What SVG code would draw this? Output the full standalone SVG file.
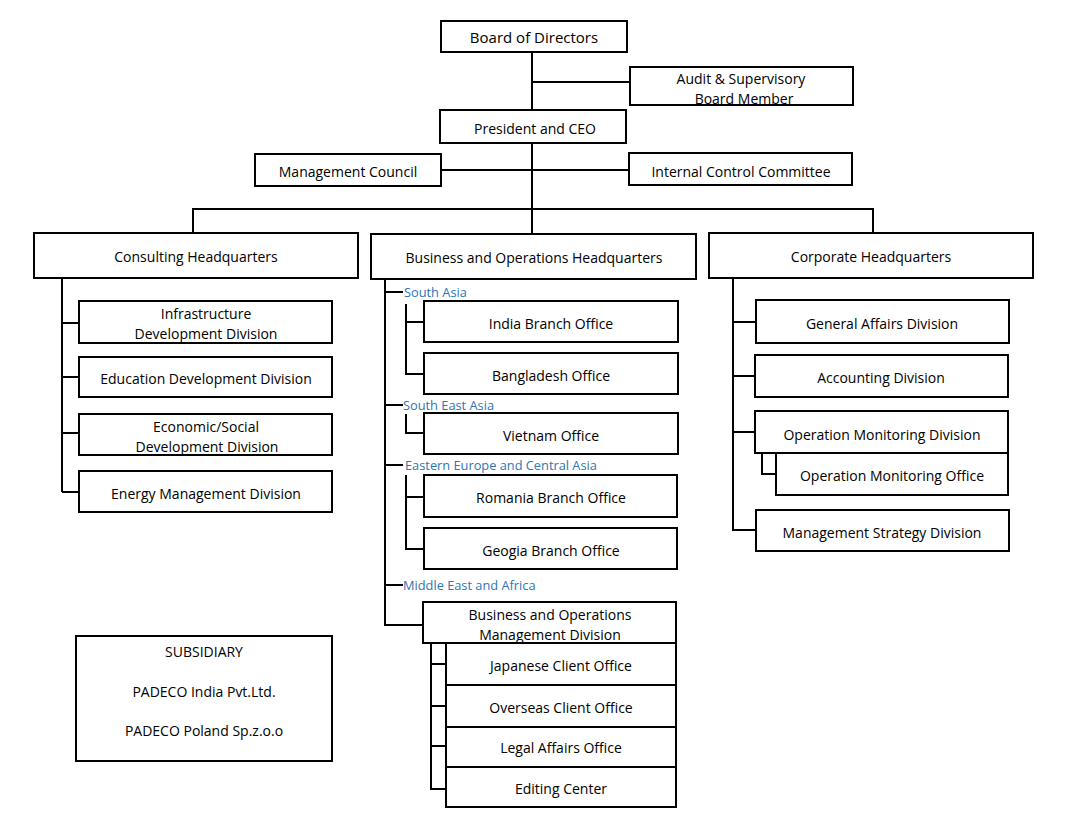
<svg xmlns="http://www.w3.org/2000/svg" width="1077" height="822" viewBox="0 0 1077 822">
<style>
.b{fill:#fff;stroke:#000;stroke-width:2}
.t{font-family:"Open Sans","Noto Sans",sans-serif;font-size:14px;fill:#000;text-anchor:middle;dominant-baseline:central}
.r{font-family:"Open Sans","Noto Sans",sans-serif;font-size:12.8px;fill:#2E75B6;dominant-baseline:central}
.c{fill:none;stroke:#000;stroke-width:2}
</style>
<rect width="1077" height="822" fill="#fff"/>
<g id="connectors" class="c">
<path d="M532 52V110M532 82H630M532 143V233M441 170H629M193 233V209H873V233"/>
<path d="M62 278V492M62 323H79M62 377H79M62 433H79M62 492H79"/>
<path d="M385 279V625H423M385 292H403M385 405H403M385 465H403M385 585H403"/>
<path d="M406 304V374H424M406 322H424M406 414V433H424M406 475V549H424M406 497H424"/>
<path d="M431 643V789H446M431 664H446M431 706H446M431 746H446"/>
<path d="M733 278V530H756M733 322H756M733 376H755M733 432H755M762 453V474H776"/>
</g>
<g id="board"><rect class="b" x="441" y="21" width="186" height="31"/><text class="t" x="534" y="37" style="font-size:15px">Board of Directors</text></g>
<g id="audit"><rect class="b" x="630" y="67" width="223" height="38"/><text class="t" x="741" y="78">Audit &amp; Supervisory</text><text class="t" x="744" y="98">Board Member</text></g>
<g id="ceo"><rect class="b" x="440" y="110" width="186" height="33"/><text class="t" x="535" y="128">President and CEO</text></g>
<g id="mgmt-council"><rect class="b" x="255" y="154" width="186" height="32"/><text class="t" x="348" y="171">Management Council</text></g>
<g id="icc"><rect class="b" x="629" y="153" width="223" height="32"/><text class="t" x="741" y="171">Internal Control Committee</text></g>
<g id="consulting-hq"><rect class="b" x="34" y="233" width="324" height="45"/><text class="t" x="196" y="256">Consulting Headquarters</text></g>
<g id="business-hq"><rect class="b" x="371" y="234" width="325" height="45"/><text class="t" x="534" y="257">Business and Operations Headquarters</text></g>
<g id="corporate-hq"><rect class="b" x="709" y="233" width="324" height="45"/><text class="t" x="871" y="256">Corporate Headquarters</text></g>
<g id="infra"><rect class="b" x="79" y="301" width="253" height="42"/><text class="t" x="206" y="313">Infrastructure</text><text class="t" x="206" y="333">Development Division</text></g>
<g id="education"><rect class="b" x="79" y="357" width="253" height="40"/><text class="t" x="206" y="378">Education Development Division</text></g>
<g id="economic"><rect class="b" x="79" y="414" width="253" height="41"/><text class="t" x="206" y="426">Economic/Social</text><text class="t" x="207" y="446">Development Division</text></g>
<g id="energy"><rect class="b" x="79" y="471" width="253" height="41"/><text class="t" x="206" y="493">Energy Management Division</text></g>
<g id="region-south-asia"><text class="r" x="404" y="292">South Asia</text></g>
<g id="india"><rect class="b" x="424" y="301" width="254" height="41"/><text class="t" x="551" y="323">India Branch Office</text></g>
<g id="bangladesh"><rect class="b" x="424" y="353" width="254" height="41"/><text class="t" x="551" y="375">Bangladesh Office</text></g>
<g id="region-sea"><text class="r" x="403" y="405">South East Asia</text></g>
<g id="vietnam"><rect class="b" x="424" y="413" width="254" height="41"/><text class="t" x="551" y="435">Vietnam Office</text></g>
<g id="region-eeca"><text class="r" x="405" y="465">Eastern Europe and Central Asia</text></g>
<g id="romania"><rect class="b" x="424" y="475" width="253" height="42"/><text class="t" x="551" y="497">Romania Branch Office</text></g>
<g id="georgia"><rect class="b" x="424" y="528" width="253" height="41"/><text class="t" x="551" y="550">Geogia Branch Office</text></g>
<g id="region-mea"><text class="r" x="403" y="585">Middle East and Africa</text></g>
<g id="bom-division"><rect class="b" x="423" y="602" width="253" height="41"/><text class="t" x="550" y="614">Business and Operations</text><text class="t" x="550" y="634">Management Division</text></g>
<g id="japanese"><rect class="b" x="446" y="643" width="230" height="42"/><text class="t" x="561" y="665">Japanese Client Office</text></g>
<g id="overseas"><rect class="b" x="446" y="685" width="230" height="42"/><text class="t" x="561" y="707">Overseas Client Office</text></g>
<g id="legal"><rect class="b" x="446" y="727" width="230" height="40"/><text class="t" x="561" y="747">Legal Affairs Office</text></g>
<g id="editing"><rect class="b" x="446" y="767" width="230" height="40"/><text class="t" x="561" y="788">Editing Center</text></g>
<g id="general-affairs"><rect class="b" x="756" y="300" width="253" height="43"/><text class="t" x="882" y="323">General Affairs Division</text></g>
<g id="accounting"><rect class="b" x="755" y="355" width="253" height="42"/><text class="t" x="881" y="377">Accounting Division</text></g>
<g id="op-mon-div"><rect class="b" x="755" y="411" width="253" height="42"/><text class="t" x="882" y="434">Operation Monitoring Division</text></g>
<g id="op-mon-office"><rect class="b" x="776" y="453" width="232" height="42"/><text class="t" x="892" y="475">Operation Monitoring Office</text></g>
<g id="mgmt-strategy"><rect class="b" x="756" y="510" width="253" height="41"/><text class="t" x="882" y="532">Management Strategy Division</text></g>
<g id="subsidiary"><rect class="b" x="76" y="636" width="256" height="125"/><text class="t" x="204" y="651">SUBSIDIARY</text><text class="t" x="204" y="691">PADECO India Pvt.Ltd.</text><text class="t" x="204" y="730">PADECO Poland Sp.z.o.o</text></g>
</svg>
